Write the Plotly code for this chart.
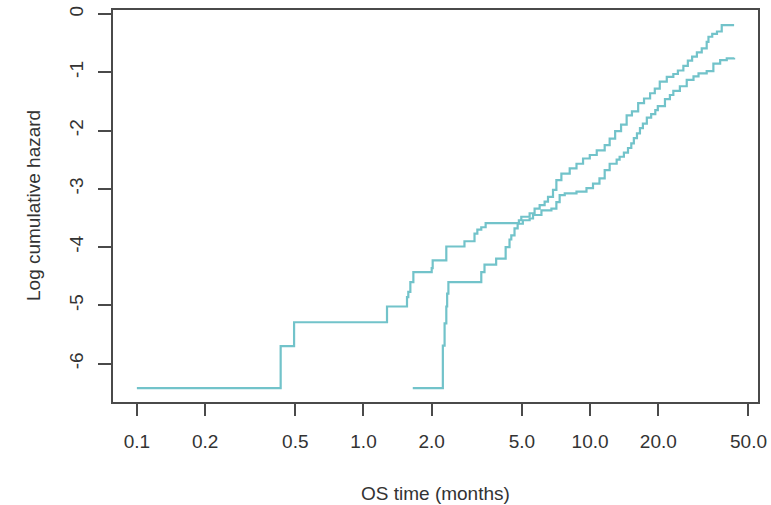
import plotly.graph_objects as go

# Log cumulative hazard step curves vs OS time (months), two groups
time_a = [0.1, 0.431, 0.494, 1.27, 1.556, 1.577, 1.61, 1.66, 2.00, 2.02, 2.32, 2.79,
          3.09, 3.18, 3.31, 3.46, 4.85, 4.97, 5.41, 5.69, 5.99, 6.30, 6.52, 6.86,
          7.10, 7.47, 8.13, 8.71, 9.31, 9.97, 10.7, 11.6, 12.2, 12.9, 13.7, 14.5,
          15.3, 16.3, 17.3, 18.4, 19.3, 20.3, 21.8, 23.3, 24.4, 25.8, 27.0, 28.2,
          29.6, 31.1, 32.7, 33.3, 34.6, 36.3, 38.1, 43.2]
loghaz_a = [-6.42, -5.70, -5.29, -5.02, -4.86, -4.77, -4.60, -4.43, -4.36, -4.23, -3.99, -3.90,
            -3.77, -3.70, -3.66, -3.59, -3.54, -3.48, -3.42, -3.34, -3.28, -3.22, -3.14, -3.02,
            -2.85, -2.74, -2.65, -2.57, -2.48, -2.42, -2.34, -2.25, -2.14, -2.01, -1.90, -1.74,
            -1.67, -1.53, -1.45, -1.36, -1.28, -1.16, -1.08, -1.03, -0.97, -0.89, -0.80, -0.73,
            -0.66, -0.59, -0.48, -0.39, -0.34, -0.30, -0.19, -0.19]

time_b = [1.65, 2.24, 2.28, 2.32, 2.34, 2.37, 3.31, 3.42, 3.85, 4.24, 4.41, 4.49,
          4.64, 4.79, 5.05, 5.41, 5.60, 6.10, 6.75, 7.10, 7.34, 7.73, 8.71, 9.64,
          10.3, 11.0, 11.6, 12.2, 13.1, 13.5, 14.1, 14.7, 15.2, 15.6, 16.1, 16.6,
          17.1, 17.8, 18.6, 19.4, 19.9, 21.4, 22.5, 23.3, 24.9, 26.7, 28.6, 30.1,
          32.7, 35.0, 37.5, 40.1, 43.2]
loghaz_b = [-6.42, -5.69, -5.31, -5.02, -4.80, -4.60, -4.43, -4.30, -4.20, -4.00, -3.87, -3.80,
            -3.68, -3.60, -3.54, -3.51, -3.45, -3.37, -3.34, -3.23, -3.11, -3.08, -3.05, -2.99,
            -2.91, -2.82, -2.68, -2.57, -2.50, -2.45, -2.38, -2.30, -2.22, -2.13, -2.05, -1.96,
            -1.88, -1.78, -1.72, -1.65, -1.58, -1.46, -1.39, -1.32, -1.24, -1.13, -1.07, -1.02,
            -0.98, -0.85, -0.79, -0.76, -0.75]

x_ticks = [0.1, 0.2, 0.5, 1, 2, 5, 10, 20, 50]
x_labels = ["0.1", "0.2", "0.5", "1.0", "2.0", "5.0", "10.0", "20.0", "50.0"]
y_ticks = [0, -1, -2, -3, -4, -5, -6]
y_labels = ["0", "-1", "-2", "-3", "-4", "-5", "-6"]
x_title = "OS time (months)"
y_title = "Log cumulative hazard"

line_color = "#72c3ca"
axis_color = "#4a4a4a"
font_family = "Liberation Sans, Arial, sans-serif"

fig = go.Figure()
for t, h in [(time_a, loghaz_a), (time_b, loghaz_b)]:
    fig.add_trace(go.Scatter(x=t, y=h, mode="lines", line=dict(color=line_color, width=2.2, shape="hv"),
                             showlegend=False, hoverinfo="skip"))

fig.update_layout(
    width=771, height=505,
    margin=dict(l=113, r=13, t=10, b=103),
    paper_bgcolor="white", plot_bgcolor="white",
    font=dict(family=font_family, size=19, color="#333333"),
)
fig.update_xaxes(
    type="log", range=[-1.1054, 1.741], automargin=False,
    tickvals=x_ticks, ticktext=x_labels,
    ticks="outside", ticklen=12, tickwidth=1.5, tickcolor=axis_color,
    showline=True, linecolor=axis_color, linewidth=1.5, mirror=True,
    showgrid=False, zeroline=False, ticklabelstandoff=9,
)
fig.update_yaxes(
    range=[-6.659, 0.0687], automargin=False,
    tickvals=y_ticks, ticktext=y_labels, tickangle=-90,
    ticks="outside", ticklen=13, tickwidth=1.5, tickcolor=axis_color,
    showline=True, linecolor=axis_color, linewidth=1.5, mirror=True,
    showgrid=False, zeroline=False, ticklabelstandoff=8,
)

# Axis titles, placed below / left of the plotting frame
fig.add_annotation(text=x_title, xref="paper", yref="paper", x=0.5, y=0,
                   xanchor="center", yanchor="middle", yshift=-91, showarrow=False,
                   font=dict(size=19, color="#333333"))
fig.add_annotation(text=y_title, xref="paper", yref="paper", x=0, y=0.5,
                   xanchor="center", yanchor="middle", xshift=-80, textangle=-90,
                   showarrow=False, font=dict(size=19, color="#333333"))

fig.write_html("out.html")
